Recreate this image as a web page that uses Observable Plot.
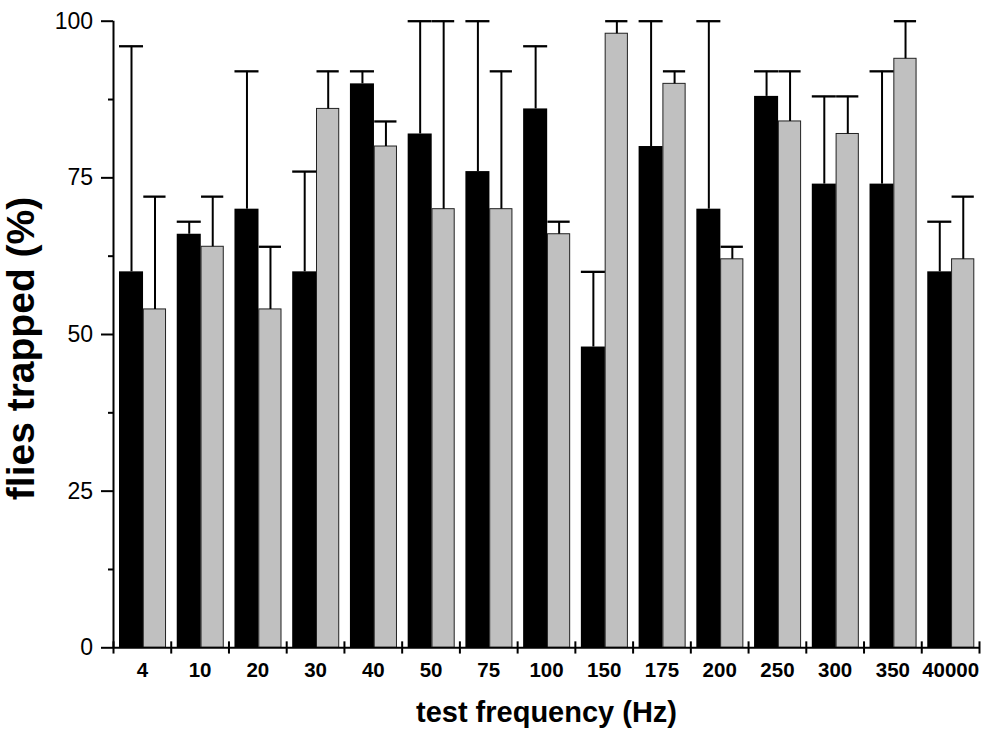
<!DOCTYPE html>
<html>
<head>
<meta charset="utf-8">
<script src="https://cdn.jsdelivr.net/npm/d3@7"></script>
<script src="https://cdn.jsdelivr.net/npm/@observablehq/plot@0.6"></script>
<style>
  html, body { margin: 0; padding: 0; background: #fff; }
  svg { font-family: "Liberation Sans", Arial, sans-serif; }
</style>
</head>
<body>
<div id="chart"></div>
<script>
// Data
const frequencies = ["4", "10", "20", "30", "40", "50", "75", "100", "150", "175", "200", "250", "300", "350", "40000"];
const blackMean = [60, 66, 70, 60, 90, 82, 76, 86, 48, 80, 70, 88, 74, 74, 60];
const blackSE   = [36, 2, 22, 16, 2, 18, 24, 10, 12, 20, 30, 4, 14, 18, 8];
const grayMean  = [54, 64, 54, 86, 80, 70, 70, 66, 98, 90, 62, 84, 82, 94, 62];
const graySE    = [18, 8, 10, 6, 4, 30, 22, 2, 2, 2, 2, 8, 6, 6, 10];
const yMajorTicks = [0, 25, 50, 75, 100];
const yMinorTicks = [12.5, 37.5, 62.5, 87.5];

const table = frequencies.map((f, i) => ({
  i, f,
  black: blackMean[i], blackTop: blackMean[i] + blackSE[i],
  gray: grayMean[i], grayTop: grayMean[i] + graySE[i]
}));
const boundaries = d3.range(frequencies.length + 1);
const centers = frequencies.map((f, i) => i + 0.5);

const chart = Plot.plot({
  width: 985,
  height: 731,
  marginLeft: 113,
  marginRight: 6,
  marginTop: 20.7,
  marginBottom: 83.7,
  style: {fontFamily: "'Liberation Sans', Arial, sans-serif", background: "#fff", color: "#000"},
  x: {type: "linear", domain: [0, frequencies.length]},
  y: {domain: [0, 100]},
  marks: [
    // bars
    Plot.rectY(table, {x1: "i", x2: d => d.i + 1, y: "black", fill: "black", insetLeft: 6, insetRight: 27.7}),
    Plot.rectY(table, {x1: "i", x2: d => d.i + 1, y: "gray", fill: "#c0c0c0", stroke: "#222", strokeWidth: 1, insetLeft: 30.3, insetRight: 5.2}),
    // error bars (upper only)
    Plot.ruleX(table, {x: "i", dx: 18, y1: "black", y2: "blackTop", stroke: "black", strokeWidth: 2}),
    Plot.ruleY(table, {y: "blackTop", x1: "i", x2: d => d.i + 1, insetLeft: 6, insetRight: 27.7, stroke: "black", strokeWidth: 2.3}),
    Plot.ruleX(table, {x: "i", dx: 41.5, y1: "gray", y2: "grayTop", stroke: "black", strokeWidth: 2}),
    Plot.ruleY(table, {y: "grayTop", x1: "i", x2: d => d.i + 1, insetLeft: 30.3, insetRight: 5.2, stroke: "black", strokeWidth: 2.3}),
    // axis lines
    Plot.ruleX([0], {y1: 0, y2: 100, stroke: "black", strokeWidth: 2}),
    Plot.ruleY([0], {stroke: "black", strokeWidth: 2}),
    // x group boundary ticks (crossing the axis)
    Plot.ruleX(boundaries, {x: d => d, y1: -1, y2: 0.95, stroke: "black", strokeWidth: 2}),
    // y axis
    Plot.axisY({ticks: yMajorTicks, tickSize: 12, tickPadding: 8.5, fontSize: 23, strokeWidth: 2, label: null, tickFormat: d => d}),
    Plot.axisY({ticks: yMinorTicks, tickSize: 5, strokeWidth: 2, label: null, tickFormat: () => ""}),
    // x axis labels
    Plot.axisX({ticks: centers, tickSize: 0, tickPadding: 15, fontSize: 20.5, fontWeight: "bold", label: null,
      tickFormat: d => frequencies[Math.floor(d)]}),
    // titles
    Plot.text(["flies trapped (%)"], {frameAnchor: "left", textAnchor: "middle", rotate: -90, dx: -92, dy: 14, fontSize: 39, fontWeight: "bold", fill: "black"}),
    Plot.text(["test frequency (Hz)"], {frameAnchor: "bottom", textAnchor: "middle", lineAnchor: "bottom", dy: 74.5, fontSize: 29, fontWeight: "bold", fill: "black"})
  ]
});
document.getElementById("chart").appendChild(chart);
</script>
</body>
</html>
